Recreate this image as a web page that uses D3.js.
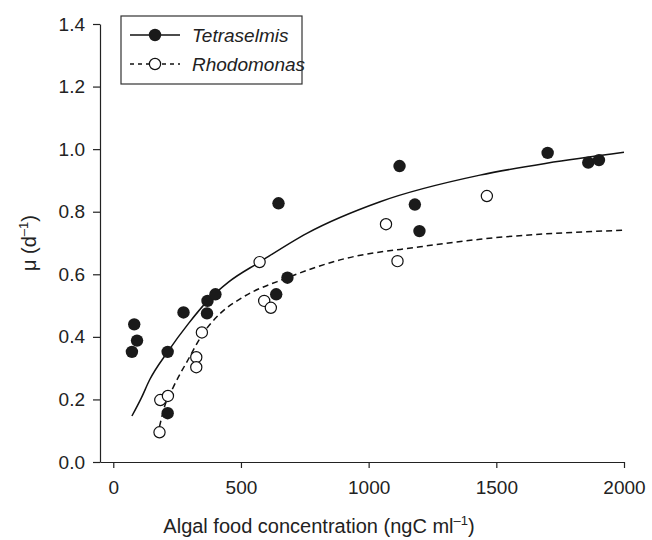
<!DOCTYPE html>
<html>
<head>
<meta charset="utf-8">
<script src="https://cdn.jsdelivr.net/npm/d3@7"></script>
<style>
  body { margin: 0; background: #fff; }
  text { font-family: "Liberation Sans", Arial, Helvetica, sans-serif; fill: #222; }
</style>
</head>
<body>
<div id="chart"></div>
<script>
// growth rate vs algal food concentration

// Tetraselmis observations (ngC ml-1, d-1)
const tetraX = [73, 82, 93, 213, 213, 275, 367, 369, 400, 638, 647, 682, 1121, 1181, 1199, 1701, 1860, 1902];
const tetraY = [0.352, 0.440, 0.388, 0.352, 0.156, 0.478, 0.475, 0.515, 0.536, 0.536, 0.827, 0.589, 0.946, 0.823, 0.738, 0.988, 0.957, 0.965];

// Rhodomonas observations
const rhodoX = [181, 184, 214, 325, 325, 347, 573, 591, 617, 1068, 1113, 1463];
const rhodoY = [0.095, 0.198, 0.211, 0.335, 0.303, 0.414, 0.639, 0.515, 0.493, 0.760, 0.642, 0.850];

// fitted curves
const tetraFitX = [73, 110, 142, 213, 295, 369, 451, 573, 758, 1045, 1436, 1697, 2000];
const tetraFitY = [0.147, 0.205, 0.262, 0.352, 0.443, 0.515, 0.575, 0.639, 0.731, 0.832, 0.917, 0.955, 0.99];
const rhodoFitX = [181, 200, 236, 295, 347, 419, 500, 682, 888, 1202, 1436, 2000];
const rhodoFitY = [0.113, 0.175, 0.241, 0.330, 0.405, 0.475, 0.523, 0.589, 0.646, 0.688, 0.712, 0.741];

const xTicks = [0, 500, 1000, 1500, 2000];
const yTicks = [0, 0.2, 0.4, 0.6, 0.8, 1.0, 1.2, 1.4];

const width = 652;
const height = 540;

const svg = d3.select("#chart")
    .append("svg")
    .attr("width", width)
    .attr("height", height);

const x = d3.scaleLinear().domain([-52, 2000]).range([100, 624]);
const y = d3.scaleLinear().domain([0, 1.4]).range([462, 24]);

// axes
const xAxis = svg.append("g")
    .attr("transform", `translate(0, ${y(0)})`)
    .call(d3.axisBottom(x).tickValues(xTicks).tickSize(6).tickSizeOuter(0).tickPadding(13).tickFormat(d3.format("d")));

const yAxis = svg.append("g")
    .attr("transform", `translate(${x(-52)}, 0)`)
    .call(d3.axisLeft(y).tickValues(yTicks).tickSize(7).tickSizeOuter(0).tickPadding(8).tickFormat(d3.format(".1f")));

[xAxis, yAxis].forEach(ax => {
    ax.selectAll("path, line").attr("stroke", "#222").attr("stroke-width", 1.2);
    ax.selectAll("text")
        .style("font-size", "19px")
        .style("font-family", "'Liberation Sans', Arial, sans-serif")
        .attr("fill", "#222");
});

// axis titles
const xTitle = svg.append("text")
    .attr("x", 319)
    .attr("y", 533)
    .attr("text-anchor", "middle")
    .style("font-size", "20px");
xTitle.append("tspan").text("Algal food concentration (ngC ml");
xTitle.append("tspan").attr("dy", -8).style("font-size", "13px").text("–1");
xTitle.append("tspan").attr("dy", 8).text(")");

const yTitle = svg.append("text")
    .attr("transform", "translate(36, 243) rotate(-90)")
    .attr("text-anchor", "middle")
    .style("font-size", "20px");
yTitle.append("tspan").text("μ (d");
yTitle.append("tspan").attr("dy", -8).style("font-size", "13px").text("–1");
yTitle.append("tspan").attr("dy", 8).text(")");

// fitted lines
const line = d3.line()
    .x(d => x(d[0]))
    .y(d => y(d[1]))
    .curve(d3.curveMonotoneX);

svg.append("path")
    .datum(d3.zip(tetraFitX, tetraFitY))
    .attr("d", line)
    .attr("fill", "none")
    .attr("stroke", "#111")
    .attr("stroke-width", 1.5);

svg.append("path")
    .datum(d3.zip(rhodoFitX, rhodoFitY))
    .attr("d", line)
    .attr("fill", "none")
    .attr("stroke", "#111")
    .attr("stroke-width", 1.5)
    .attr("stroke-dasharray", "6,4");

// points
svg.selectAll(".rhodo")
    .data(d3.zip(rhodoX, rhodoY))
    .enter()
    .append("circle")
    .attr("class", "rhodo")
    .attr("cx", d => x(d[0]))
    .attr("cy", d => y(d[1]))
    .attr("r", 5.6)
    .attr("fill", "#fff")
    .attr("stroke", "#111")
    .attr("stroke-width", 1.2);

svg.selectAll(".tetra")
    .data(d3.zip(tetraX, tetraY))
    .enter()
    .append("circle")
    .attr("class", "tetra")
    .attr("cx", d => x(d[0]))
    .attr("cy", d => y(d[1]))
    .attr("r", 6.2)
    .attr("fill", "#1a1a1a");

// legend
const legend = svg.append("g");
legend.append("rect")
    .attr("x", 121)
    .attr("y", 16)
    .attr("width", 181)
    .attr("height", 68)
    .attr("fill", "#fff")
    .attr("stroke", "#333")
    .attr("stroke-width", 1.2);

legend.append("line")
    .attr("x1", 130).attr("x2", 180).attr("y1", 35).attr("y2", 35)
    .attr("stroke", "#111").attr("stroke-width", 1.5);
legend.append("circle")
    .attr("cx", 155).attr("cy", 35).attr("r", 6.2).attr("fill", "#1a1a1a");
legend.append("text")
    .attr("x", 192).attr("y", 42)
    .style("font-size", "19px").style("font-style", "italic")
    .text("Tetraselmis");

legend.append("line")
    .attr("x1", 130).attr("x2", 180).attr("y1", 64).attr("y2", 64)
    .attr("stroke", "#111").attr("stroke-width", 1.5)
    .attr("stroke-dasharray", "4,4");
legend.append("circle")
    .attr("cx", 155).attr("cy", 64).attr("r", 5.6)
    .attr("fill", "#fff").attr("stroke", "#111").attr("stroke-width", 1.2);
legend.append("text")
    .attr("x", 192).attr("y", 71)
    .style("font-size", "19px").style("font-style", "italic")
    .text("Rhodomonas");
</script>
</body>
</html>
